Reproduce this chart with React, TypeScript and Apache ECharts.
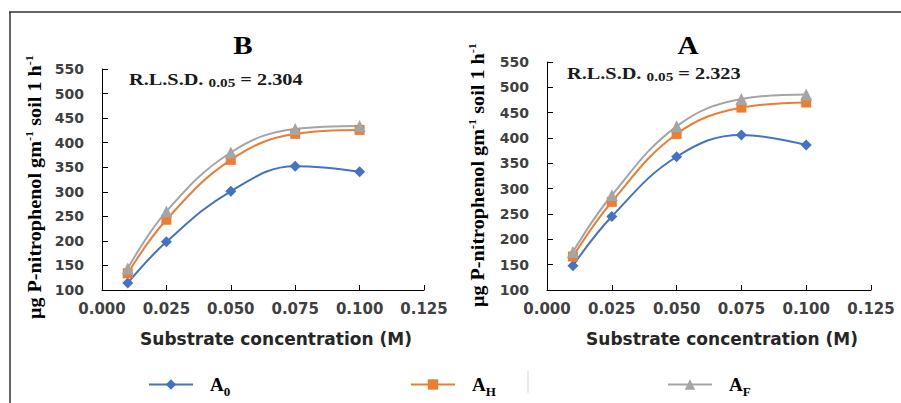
import React, { useEffect, useRef } from "react";
import * as echarts from "echarts";

const xValues = [0.01, 0.025, 0.05, 0.075, 0.1];
const yTicks = [100, 150, 200, 250, 300, 350, 400, 450, 500, 550];

const seriesNames = ["A0", "AH", "AF"];
const seriesSubs = ["0", "H", "F"];

// Panel B (left)
const bA0 = [114, 198, 301, 352, 341];
const bAH = [134, 243, 365, 418, 426];
const bAF = [144, 260, 380, 428, 434];

// Panel A (right)
const aA0 = [148, 245, 363, 406, 386];
const aAH = [166, 274, 408, 460, 470];
const aAF = [175, 287, 423, 477, 486];

const panelTitles = ["B", "A"];
const rlsdValues = ["2.304", "2.323"];

const colors = ["#4472C4", "#ED7D31", "#A5A5A5"];
const symbols = ["diamond", "rect", "triangle"];
const symbolSizes = [11, 10, 12];

const SERIF = "'Liberation Serif', 'Times New Roman', serif";
const SANS = "'DejaVu Sans', 'Open Sans', sans-serif";

export default function App() {
  const ref = useRef<HTMLDivElement>(null);

  useEffect(() => {
    if (!ref.current) return;
    const chart = echarts.init(ref.current, null, { renderer: "svg" });

    const grids = [
      { left: 102, top: 69, width: 322, height: 221 },
      { left: 547, top: 62, width: 324, height: 228 },
    ];

    const makeX = (i: number) => ({
      type: "value",
      gridIndex: i,
      min: 0,
      max: 0.125,
      interval: 0.025,
      axisLine: { show: true, lineStyle: { color: "#000", width: 1 } },
      axisTick: { show: true, inside: true, length: 5, lineStyle: { color: "#000" } },
      splitLine: { show: false },
      axisLabel: {
        formatter: (v: number) => v.toFixed(3),
        fontFamily: SANS,
        fontWeight: "bold",
        fontSize: 15,
        color: "#404040",
        margin: 11,
      },
      name: "Substrate concentration (M)",
      nameLocation: "middle",
      nameGap: 40,
      nameTextStyle: {
        fontFamily: SANS,
        fontWeight: "bold",
        fontSize: 17,
        color: "#262626",
        padding: [0, 0, 0, 26],
      },
    });

    const makeY = (i: number) => ({
      type: "value",
      gridIndex: i,
      min: yTicks[0],
      max: yTicks[yTicks.length - 1],
      interval: 50,
      axisLine: { show: true, lineStyle: { color: "#000", width: 1 } },
      axisTick: { show: true, inside: true, length: 6, lineStyle: { color: "#000" } },
      splitLine: { show: false },
      axisLabel: {
        fontFamily: SANS,
        fontWeight: "bold",
        fontSize: 14,
        color: "#404040",
        margin: 18,
      },
    });

    const panelData = [
      [bA0, bAH, bAF],
      [aA0, aAH, aAF],
    ];

    const series: any[] = [];
    panelData.forEach((panel, pi) => {
      panel.forEach((vals, si) => {
        series.push({
          type: "line",
          name: seriesNames[si],
          xAxisIndex: pi,
          yAxisIndex: pi,
          data: xValues.map((x, k) => [x, vals[k]]),
          smooth: 0.4,
          symbol: symbols[si],
          symbolSize: symbolSizes[si],
          showSymbol: true,
          lineStyle: { color: colors[si], width: 2 },
          itemStyle: { color: colors[si] },
        });
      });
    });

    const legendPos = [148, 410, 667];
    const legends = seriesNames.map((n, i) => ({
      data: [n],
      left: legendPos[i],
      top: 375,
      padding: 0,
      itemWidth: 44,
      itemHeight: 13,
      selectedMode: false,
      formatter: () => `{b|A}{s|${seriesSubs[i]}}`,
      textStyle: {
        padding: [0, 0, 0, 12],
        rich: {
          b: {
            fontFamily: SERIF,
            fontWeight: "bold",
            fontSize: 19,
            color: "#000",
            lineHeight: 26,
            verticalAlign: "middle",
          },
          s: {
            fontFamily: SERIF,
            fontWeight: "bold",
            fontSize: 13,
            color: "#000",
            lineHeight: 26,
            verticalAlign: "bottom",
          },
        },
      },
    }));

    const yLabelRich = {
      m: {
        fontFamily: SERIF,
        fontWeight: "bold",
        fontSize: 18,
        fill: "#000",
        lineHeight: 21,
        verticalAlign: "middle",
      },
      sup: {
        fontFamily: SERIF,
        fontWeight: "bold",
        fontSize: 11,
        fill: "#000",
        lineHeight: 21,
        verticalAlign: "top",
      },
    };

    const rlsdRich = {
      m: {
        fontFamily: SERIF,
        fontWeight: "bold",
        fontSize: 16,
        fill: "#1a1a1a",
        lineHeight: 19,
        verticalAlign: "middle",
      },
      s: {
        fontFamily: SERIF,
        fontWeight: "bold",
        fontSize: 12,
        fill: "#1a1a1a",
        lineHeight: 19,
        verticalAlign: "bottom",
      },
    };

    const yLabelPos = [
      { x: 35, y: 187 },
      { x: 478, y: 175 },
    ];
    const titlePos = [
      { x: 243, y: 45 },
      { x: 688, y: 45 },
    ];
    const rlsdPos = [
      { x: 129, y: 80 },
      { x: 567, y: 74 },
    ];

    const graphics: any[] = [
      {
        type: "line",
        shape: { x1: 9, y1: 12, x2: 901, y2: 12 },
        style: { stroke: "#333", lineWidth: 1.5 },
      },
      {
        type: "line",
        shape: { x1: 10, y1: 12, x2: 10, y2: 403 },
        style: { stroke: "#333", lineWidth: 1.5 },
      },
      {
        type: "line",
        shape: { x1: 528, y1: 371, x2: 528, y2: 393 },
        style: { stroke: "#d9d9d9", lineWidth: 1 },
      },
    ];

    [0, 1].forEach((i) => {
      graphics.push({
        type: "text",
        x: titlePos[i].x,
        y: titlePos[i].y,
        scaleX: 1.12,
        style: {
          text: panelTitles[i],
          fontFamily: SERIF,
          fontWeight: "bold",
          fontSize: 26,
          fill: "#000",
          align: "center",
          verticalAlign: "middle",
        },
      });
      graphics.push({
        type: "text",
        x: rlsdPos[i].x,
        y: rlsdPos[i].y,
        scaleX: 1.27,
        style: {
          text: `{m|R.L.S.D. }{s|0.05}{m| = ${rlsdValues[i]}}`,
          rich: rlsdRich,
          align: "left",
          verticalAlign: "middle",
        },
      });
      graphics.push({
        type: "text",
        x: yLabelPos[i].x,
        y: yLabelPos[i].y,
        rotation: Math.PI / 2,
        scaleX: 1.12,
        style: {
          text: "{m|μg P-nitrophenol gm}{sup|-1}{m| soil 1 h}{sup|-1}",
          rich: yLabelRich,
          align: "center",
          verticalAlign: "middle",
        },
      });
    });

    chart.setOption({
      animation: false,
      backgroundColor: "#fff",
      grid: grids,
      xAxis: [makeX(0), makeX(1)],
      yAxis: [makeY(0), makeY(1)],
      legend: legends,
      series,
      graphic: graphics,
    });

    return () => chart.dispose();
  }, []);

  return (
    <div
      ref={ref}
      style={{ position: "absolute", left: 0, top: 0, width: 901, height: 403 }}
    />
  );
}
